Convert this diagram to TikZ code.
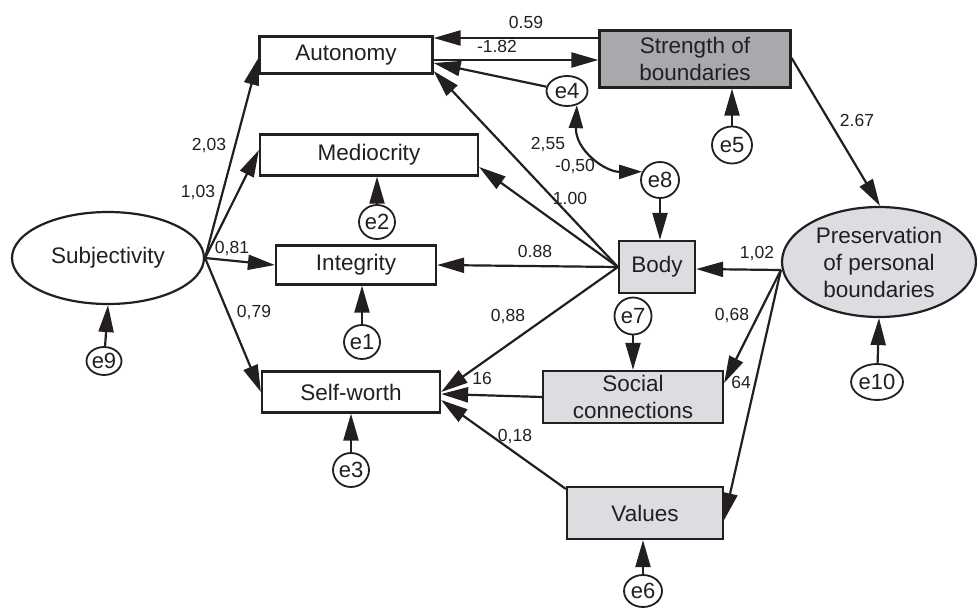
\documentclass[tikz,border=0pt]{standalone}
\usepackage{fontspec}
\setmainfont{Liberation Sans}
\usetikzlibrary{arrows.meta,shapes.geometric}
\definecolor{darkfill}{HTML}{A8A9AD}
\definecolor{lightfill}{HTML}{DCDDE1}
\definecolor{ink}{HTML}{231F20}
\begin{document}
\begin{tikzpicture}[x=1pt,y=-1pt,
  every node/.style={text=ink},
  box/.style={draw=ink,line width=2.2pt,inner sep=0pt,align=center,font=\fontsize{22.5}{27}\selectfont},
  lat/.style={ellipse,draw=ink,line width=2.2pt,inner sep=0pt,align=center,font=\fontsize{22.5}{27}\selectfont},
  err/.style={ellipse,draw=ink,line width=1.8pt,inner sep=0pt,fill=white,font=\fontsize{22}{24}\selectfont},
  lbl/.style={font=\fontsize{17.5}{19}\selectfont,inner sep=0pt},
  arr/.style={draw=ink,line width=2.2pt,-{Triangle[length=27pt,width=15pt]}},
  dbl/.style={draw=ink,line width=2.2pt,{Triangle[length=23pt,width=14pt]}-{Triangle[length=23pt,width=14pt]}}
]
\useasboundingbox (0,0) rectangle (977,608);

% observed / latent variables
\node[box,minimum width=173,minimum height=37] (aut) at (346,55) {Autonomy};
\node[box,minimum width=218,minimum height=41] (med) at (369,155) {Mediocrity};
\node[box,minimum width=160,minimum height=39] (int) at (356,265) {Integrity};
\node[box,minimum width=178,minimum height=41] (sw) at (351,392) {Self-worth};
\node[lat,minimum width=192,minimum height=92] (subj) at (108,258) {Subjectivity};
\node[box,fill=darkfill,minimum width=191,minimum height=57] (str) at (695,59) {Strength of\\boundaries};
\node[box,fill=lightfill,minimum width=76,minimum height=52] (body) at (657,267) {Body};
\node[lat,fill=lightfill,minimum width=194,minimum height=110] (pres) at (879,262) {Preservation\\of personal\\boundaries};
\node[box,fill=lightfill,minimum width=180,minimum height=52] (soc) at (633,397) {Social\\connections};
\node[box,fill=lightfill,minimum width=156,minimum height=52] (val) at (645,513) {Values};

% error terms
\node[err,minimum width=36,minimum height=34] (e1) at (362,342) {e1};
\node[err,minimum width=36,minimum height=34] (e2) at (377,222) {e2};
\node[err,minimum width=36,minimum height=34] (e3) at (351,470) {e3};
\node[err,minimum width=41,minimum height=30] (e4) at (567,91) {e4};
\node[err,minimum width=40,minimum height=37] (e5) at (732,145) {e5};
\node[err,minimum width=38,minimum height=32] (e6) at (643,591) {e6};
\node[err,minimum width=37,minimum height=37] (e7) at (633,316) {e7};
\node[err,minimum width=38,minimum height=36] (e8) at (660,180) {e8};
\node[err,minimum width=35,minimum height=28] (e9) at (104,361) {e9};
\node[err,minimum width=41,minimum height=36] (e10) at (877,382) {e10};

% anchor points
\coordinate (sjo) at (subj.east);
\coordinate (bdo) at (body.west);
\coordinate (pro) at ([yshift=-8]pres.west);

% Subjectivity paths
\draw[arr] (sjo) -- ([yshift=-3]aut.west);
\draw[arr] (sjo) -- ([yshift=5]med.west);
\draw[arr] (sjo) -- (int.west);
\draw[arr] (sjo) -- (sw.west);

% Strength <-> Autonomy
\draw[arr] ([yshift=21]str.west) -- ([yshift=17]aut.east);
\draw[arr] ([yshift=-5]aut.east) -- ([yshift=-1]str.west);
\draw[arr] (e4) -- ([yshift=-8]aut.east);
\draw[dbl] (e4.-55) .. controls (575,150) and (605,172) .. (e8.155);

% Body paths
\draw[arr] (bdo) -- ([yshift=-16]aut.east);
\draw[arr] (bdo) -- ([yshift=-12]med.east);
\draw[arr] (bdo) -- (int.east);
\draw[arr] (bdo) -- (sw.east);

% Preservation paths
\draw[arr] ([yshift=1]str.east) -- ([xshift=1]pres.north);
\draw[arr] (pro) -- ([yshift=-2]body.east);
\draw[arr] (pro) -- ([yshift=14]soc.east);
\draw[arr] (pro) -- ([yshift=-7]val.east);

% Social, Values -> Self-worth
\draw[arr] (soc.west) -- ([yshift=-2]sw.east);
\draw[arr] ([yshift=24]val.west) -- ([yshift=-8]sw.east);

% error arrows
\draw[arr] (e1) -- (e1 |- int.south);
\draw[arr] (e2) -- (e2 |- med.south);
\draw[arr] (e3) -- (e3 |- sw.south);
\draw[arr] (e5) -- (e5 |- str.south);
\draw[arr] (e6) -- (e6 |- val.south);
\draw[arr] (e7) -- (e7 |- soc.north);
\draw[arr] (e8) -- (e8 |- body.north);
\draw[arr] (e9) -- (subj.south);
\draw[arr] (e10) -- (pres.south);

% coefficient labels
\node[lbl] (l059) at (526,22) {0.59};
\node[lbl] (l182) at (497,46) {-1.82};
\node[lbl] (l203) at (209,146) {2,03};
\node[lbl] (l103) at (198,193) {1,03};
\node[lbl] (l081) at (232,249) {0,81};
\node[lbl] (l079) at (254,313) {0,79};
\node[lbl] (l255) at (548,145) {2,55};
\node[lbl] (l050) at (575,167) {-0,50};
\node[lbl] (l100) at (570,198) {1.00};
\node[lbl] (l088a) at (535,251) {0.88};
\node[lbl] (l088b) at (508,317) {0,88};
\node[lbl] (l016) at (482,378) {16};
\node[lbl] (l102) at (757,254) {1,02};
\node[lbl] (l068) at (732,316) {0,68};
\node[lbl] (l064) at (741,382) {64};
\node[lbl] (l018) at (515,437) {0,18};
\node[lbl] (l267) at (857,120) {2.67};
\end{tikzpicture}
\end{document}
